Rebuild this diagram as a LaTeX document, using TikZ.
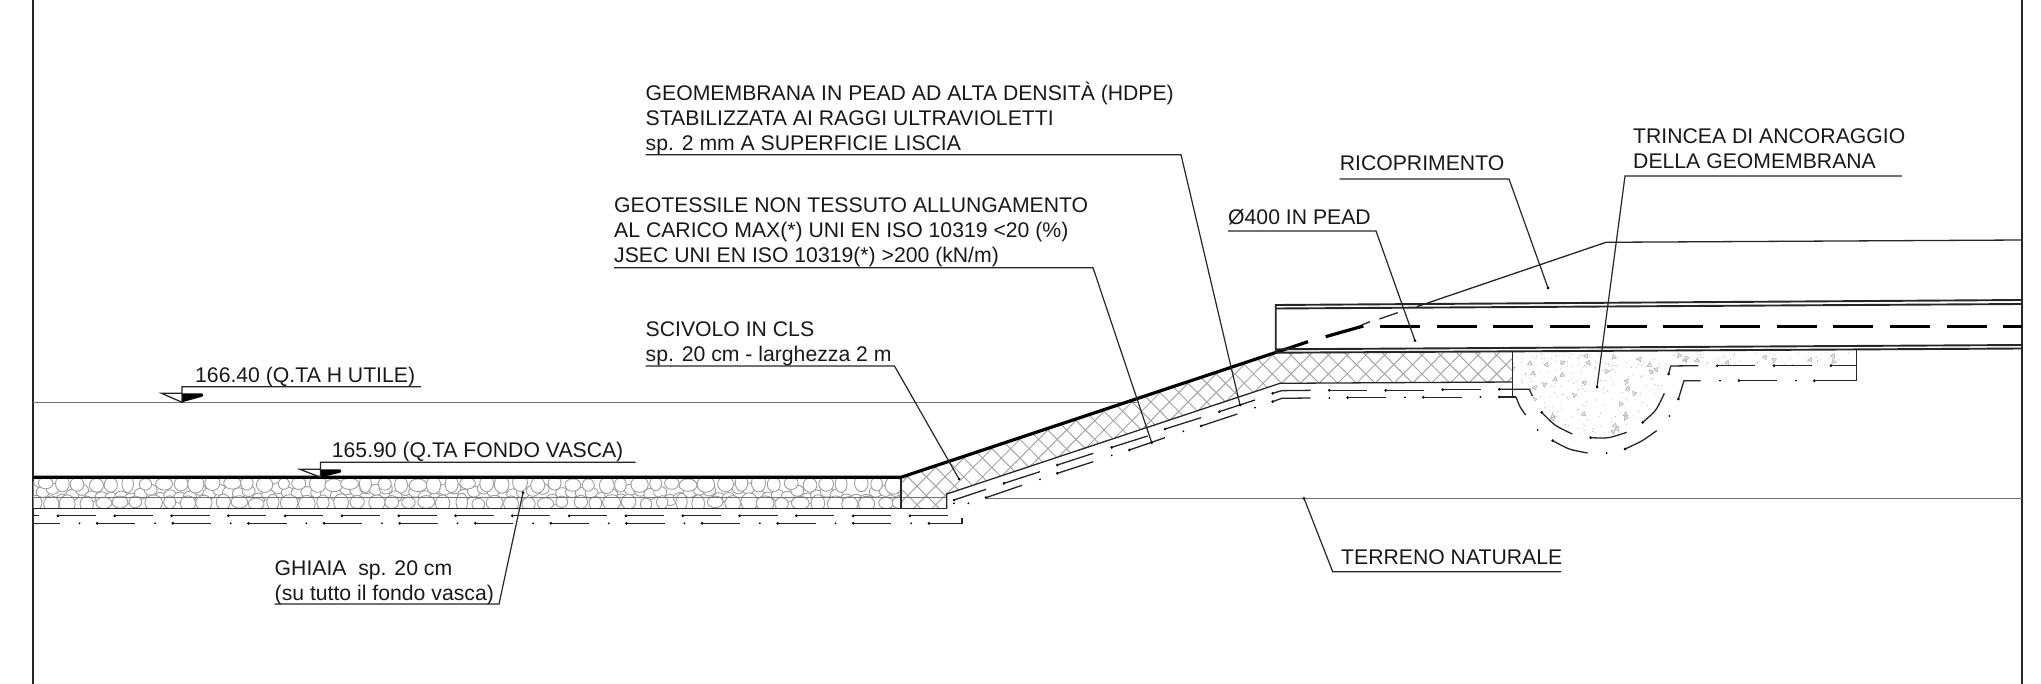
\documentclass[tikz,border=0pt]{standalone}
\usepackage{fontspec}
\setmainfont{Liberation Sans}
\newcommand{\seg}[2]{\fill[black] (#1) circle (1.5pt); \draw[geoline] (#1) -- #2;}
\newcommand{\spot}[1]{\fill[black] (#1) circle (1pt);}
\tikzset{
  lbl/.style={anchor=base west,inner sep=0pt,align=left,font=\fontsize{21.2}{25.2}\selectfont,text=black!90},
  leader/.style={draw=black!85,line width=1.2pt,line join=miter},
  geoline/.style={draw=black!85,line width=1.3pt},
  thick line/.style={draw=black,line width=3.2pt,line join=bevel},
  thin line/.style={draw=black!85,line width=1.3pt},
  grey line/.style={draw=black!55,line width=1.4pt},
  box line/.style={draw=black!85,line width=1.9pt},
  hatch/.style={draw=black!35,line width=1pt},
  cobble/.style={draw=black!38,fill=white,line width=0.9pt},
  speck/.style={draw=black!32,fill=black!10,line width=0.5pt},
  pipe/.style={draw=black,line width=3pt},
  zoomA/.style={shift={(850,330)},x=0.33333pt,y=-0.33333pt},
  zoomB/.style={shift={(1260,280)},x=0.33333pt,y=-0.33333pt},
}
\begin{document}
\begin{tikzpicture}[x=1pt,y=-1pt]
\useasboundingbox (0,0) rectangle (2041,684);
% ---- frame
\draw[thin line] (33,0) -- (33,684);
\draw[thin line] (2022,0) -- (2022,684);
% ---- gravel
\begin{scope}
  \clip (33.5,478) rectangle (901,508.3);
  \pgfmathsetseed{42}
  \foreach \k in {0,...,90}{
    \pgfmathsetmacro\xc{33+\k*9.8}
    \pgfmathsetmacro\yc{488+rnd*12}
    \draw[cobble] (\xc,\yc) ellipse [x radius=6.5pt,y radius=5.5pt];
  }
  \foreach \yy/\o in {484/0,503/8}{
    \foreach \k in {0,...,52}{
      \pgfmathsetmacro\xc{25+\k*17+\o+rnd*4}
      \pgfmathsetmacro\yc{\yy+rnd*2.5-1.2}
      \pgfmathsetmacro\ra{5.5+rnd*3.5}
      \pgfmathsetmacro\rb{5.5+rnd*3.5}
      \draw[cobble] (\xc,\yc) ellipse [x radius=\ra pt,y radius=\rb pt];
    }
  }
\end{scope}
% ---- crosshatch of the concrete ramp
\begin{scope}
  \clip (901,477.3) -- (1276,352.7) -- (1512.3,352.7) -- (1512.3,382) -- (1280,383.3) -- (946.7,494) -- (946.7,508.3) -- (901,508.3) -- cycle;
  \foreach \k in {0,...,55}{
    \pgfmathsetmacro\s{640+\k*18.7}
    \draw[hatch] (\s,340) -- (\s+180,520);
    \draw[hatch] (\s,520) -- (\s+180,340);
  }
\end{scope}
% ---- concrete of the trench
\begin{scope}[zoomB]
  \clip (757,214) -- (1791,205) -- (1791,257) -- (1232,258) -- (1226,282) -- plot[smooth] coordinates {(1213,340) (1148,427) (1100,457) (1040,472) (992,473) (937,462) (845,397) (817,348)} -- (808,328) -- (757,328) -- cycle;
  \pgfmathsetseed{7}
  \foreach \k in {1,...,42}{
    \pgfmathsetmacro\px{760+rnd*470}
    \pgfmathsetmacro\py{218+rnd*250}
    \pgfmathsetmacro\ang{rnd*360}
    \draw[speck] (\px,\py) ++(\ang:9) -- ++(\ang+125:14) -- ++(\ang+245:14) -- cycle;
  }
  \foreach \k in {1,...,10}{
    \pgfmathsetmacro\px{1240+rnd*540}
    \pgfmathsetmacro\py{218+rnd*36}
    \pgfmathsetmacro\ang{rnd*360}
    \draw[speck] (\px,\py) ++(\ang:9) -- ++(\ang+125:14) -- ++(\ang+245:14) -- cycle;
  }
  \foreach \k in {1,...,260}{
    \pgfmathsetmacro\px{760+rnd*470}
    \pgfmathsetmacro\py{218+rnd*250}
    \fill[black!30] (\px,\py) circle (0.55pt);
  }
  \foreach \k in {1,...,50}{
    \pgfmathsetmacro\px{1240+rnd*540}
    \pgfmathsetmacro\py{218+rnd*36}
    \fill[black!30] (\px,\py) circle (0.55pt);
  }
\end{scope}
% ---- level lines
\coordinate (hL) at (33,402.3);
\coordinate (hR) at (1136.7,402.3);
\draw[grey line] (hL) -- (hR);
\coordinate (tA) at (987,498.5);
\coordinate (tB) at (2022,498.5);
\draw[grey line] (tA) -- (tB);
\draw[grey line] (33,497.6) -- (946.7,497.6);
\draw[thin line] (33,508.3) -- (946.7,508.3);
% ---- ramp outline
\draw[thin line] (901,477.3) -- (901,508.3);
\draw[thin line] (946.7,508.3) -- (946.7,494) -- (1280,383.3) -- (1512.3,382);
\draw[thin line] (1512.3,352) -- (1512.3,397);
\draw[thin line] (1856.7,349) -- (1856.7,380);
\draw[thick line] (33,477.3) -- (901,477.3) -- (1308,341.7);
% ---- top soil
\draw[thin line] (1606,242.3) -- (2022,240);
\draw[thin line] (1416.7,306.7) -- (1606,242.3);
% ---- pipe trench box
\draw[box line] (1275.7,352.7) -- (1275.7,305) -- (2022,300);
\draw[box line] (1275.7,308.5) -- (2022,304);
\draw[box line] (1275.7,349.3) -- (2022,345);
\draw[box line] (1275.7,352.7) -- (2022,348.5);
\foreach \k in {0,...,11}{
  \pgfmathsetmacro\xs{1380+\k*56.67}
  \pgfmathsetmacro\xe{min(\xs+40,2022)}
  \draw[pipe] (\xs,326.7) -- (\xe,326.7);
}
\begin{scope}[zoomB]
  \draw[thick line] (197,170) -- (310,138);
  \draw[thin line] (305,135) -- (330,125);
  \draw[thin line] (358,117) -- (413,98);
\end{scope}
% ---- geotextile and membrane, flat bottom
\foreach \k in {0,...,15}{
  \pgfmathsetmacro\xs{58+\k*56.8}
  \seg{\xs,515.8}{(\xs+38,515.8)}
}
\draw[geoline] (33,515.8) -- (39,515.8);
\draw[geoline] (33,523.3) -- (60,523.3);
\foreach \k in {0,...,10}{
  \pgfmathsetmacro\xs{97.3+\k*75.6}
  \seg{\xs,523.3}{(\xs+38,523.3)}
}
\foreach \k in {0,...,11}{
  \pgfmathsetmacro\xs{79.5+\k*75.6}
  \spot{\xs,523.3}
}
\seg{929,523.3}{(962,523.3) -- (962,518)}
% ---- geotextile and membrane, on the slope
\begin{scope}[zoomA]
  \seg{312,510}{(408,478)}
  \seg{462,460}{(570,425)}
  \seg{622,405}{(730,370)}
  \seg{785,352}{(893,318)}
  \seg{945,297}{(1053,263)}
  \seg{1108,245}{(1215,210)}
  \seg{408,503}{(516,466)}
  \seg{622,430}{(730,395)}
  \seg{838,360}{(945,323)}
  \seg{1053,288}{(1162,252)}
  \spot{312,520}
  \spot{355,520}
  \spot{570,448}
  \spot{785,376}
  \spot{1000,304}
  \spot{1215,233}
\end{scope}
% ---- geotextile and membrane, flat top and trench
\begin{scope}[zoomB]
  \seg{38,340}{(65,332) -- (152,331)}
  \seg{38,365}{(65,355) -- (152,354)}
  \seg{208,331}{(322,331)}
  \seg{377,331}{(492,331)}
  \seg{548,329}{(662,329)}
  \seg{718,328}{(808,328) -- (817,348)}
  \spot{208,354}
  \seg{263,353}{(378,353)}
  \spot{435,352}
  \seg{490,352}{(605,352)}
  \spot{661,351}
  \seg{718,351}{(768,351)}
  \draw[geoline] plot[smooth] coordinates {(768,351) (780,380) (797,405)};
  \fill (845,397) circle (1.5pt);
  \draw[geoline] plot[smooth] coordinates {(845,397) (885,435) (937,462)};
  \fill (992,473) circle (1.5pt);
  \draw[geoline] plot[smooth] coordinates {(992,473) (1045,473) (1100,457)};
  \fill (1148,427) circle (1.5pt);
  \draw[geoline] plot[smooth] coordinates {(1148,427) (1187,390) (1213,340)};
  \seg{1226,282}{(1232,258) -- (1315,257)}
  \seg{1372,257}{(1485,257)}
  \seg{1542,257}{(1656,257)}
  \seg{1713,257}{(1791,257)}
  \spot{833,450}
  \fill (878,482) circle (1.5pt);
  \draw[geoline] plot[smooth] coordinates {(878,482) (928,507) (983,519)};
  \spot{1040,519}
  \fill (1095,507) circle (1.5pt);
  \draw[geoline] plot[smooth] coordinates {(1095,507) (1145,483) (1190,452)};
  \spot{1228,408}
  \seg{1255,357}{(1272,302) -- (1322,302)}
  \spot{1380,302}
  \seg{1437,302}{(1551,302)}
  \spot{1608,302}
  \seg{1663,302}{(1791,302)}
\end{scope}
% ---- level symbols
\coordinate (la) at (182,402.3);
\coordinate (lb) at (182,386.7);
\coordinate (lc) at (421,386.7);
\fill[black] (la) -- (182,393.3) -- (201,393.3) .. controls (204,393.3) and (204,397) .. (201,397) -- cycle;
\draw[thin line] (lc) -- (lb) -- (la) -- (161.6,393.3) -- (182,393.3);
\coordinate (ma) at (320.5,477.3);
\coordinate (mb) at (320.5,462.3);
\coordinate (mc) at (635.7,462.3);
\fill[black] (ma) -- (320.5,469.3) -- (339,469.3) .. controls (342,469.3) and (342,473) .. (339,473) -- cycle;
\draw[thin line] (mc) -- (mb) -- (ma) -- (300,469.3) -- (320.5,469.3);
\node[lbl] (utile) at (195,382.3) {166.40 (Q.TA H UTILE)};
\node[lbl] (fondo) at (331.7,457.7) {165.90 (Q.TA FONDO VASCA)};
% ---- labels
\node[lbl,anchor=north west] (hdpe) at (645.5,81.8) {GEOMEMBRANA IN PEAD AD ALTA DENSITÀ (HDPE)\\STABILIZZATA AI RAGGI ULTRAVIOLETTI\\sp. 2 mm A SUPERFICIE LISCIA};
\node[lbl,anchor=north west] (geot) at (614,197) {GEOTESSILE NON TESSUTO ALLUNGAMENTO\\AL CARICO MAX(*) UNI EN ISO 10319 <20 (\%)\\JSEC UNI EN ISO 10319(*) >200 (kN/m)};
\node[lbl,anchor=north west] (sciv) at (645.5,321.5) {SCIVOLO IN CLS\\sp. 20 cm - larghezza 2 m};
\node[lbl] (ricop) at (1339.6,171) {RICOPRIMENTO};
\node[lbl,anchor=north west] (trinc) at (1633,128.3) {TRINCEA DI ANCORAGGIO\\DELLA GEOMEMBRANA};
\node[lbl] (pead) at (1228,224.3) {Ø400 IN PEAD};
\node[lbl] (terr) at (1341,564) {TERRENO NATURALE};
\node[lbl,anchor=north west] (ghiaia) at (274.5,560) {GHIAIA\ \ sp. 20 cm\\(su tutto il fondo vasca)};
% ---- leaders
\coordinate (a1) at (645.5,154.7); \coordinate (a2) at (1181,154.7); \coordinate (a3) at (1240,405);
\coordinate (b1) at (614,267.7); \coordinate (b2) at (1093,267.7); \coordinate (b3) at (1151.7,442.7);
\coordinate (c1) at (645.5,366); \coordinate (c2) at (894.5,366); \coordinate (c3) at (959,479);
\coordinate (d1) at (1339.6,179); \coordinate (d2) at (1509,179); \coordinate (d3) at (1548,288);
\coordinate (e1) at (1902,176); \coordinate (e2) at (1625,176); \coordinate (e3) at (1597,387);
\coordinate (f1) at (1228,231); \coordinate (f2) at (1376,231); \coordinate (f3) at (1415,340.7);
\coordinate (g1) at (1561,571.7); \coordinate (g2) at (1332.7,571.7); \coordinate (g3) at (1304,498.3);
\coordinate (h1) at (274.5,604); \coordinate (h2) at (499,604); \coordinate (h3) at (523,492.7);
\draw[leader] (a1) -- (a2) -- (a3); \fill (a3) circle (1.5pt);
\draw[leader] (b1) -- (b2) -- (b3); \fill (b3) circle (1.5pt);
\draw[leader] (c1) -- (c2) -- (c3); \fill (c3) circle (1.5pt);
\draw[leader] (d1) -- (d2) -- (d3); \fill (d3) circle (1.5pt);
\draw[leader] (e1) -- (e2) -- (e3); \fill (e3) circle (1.5pt);
\draw[leader] (f1) -- (f2) -- (f3); \fill (f3) circle (1.5pt);
\draw[leader] (g1) -- (g2) -- (g3); \fill (g3) circle (1.5pt);
\draw[leader] (h1) -- (h2) -- (h3); \fill (h3) circle (1.5pt);
\end{tikzpicture}
\end{document}
